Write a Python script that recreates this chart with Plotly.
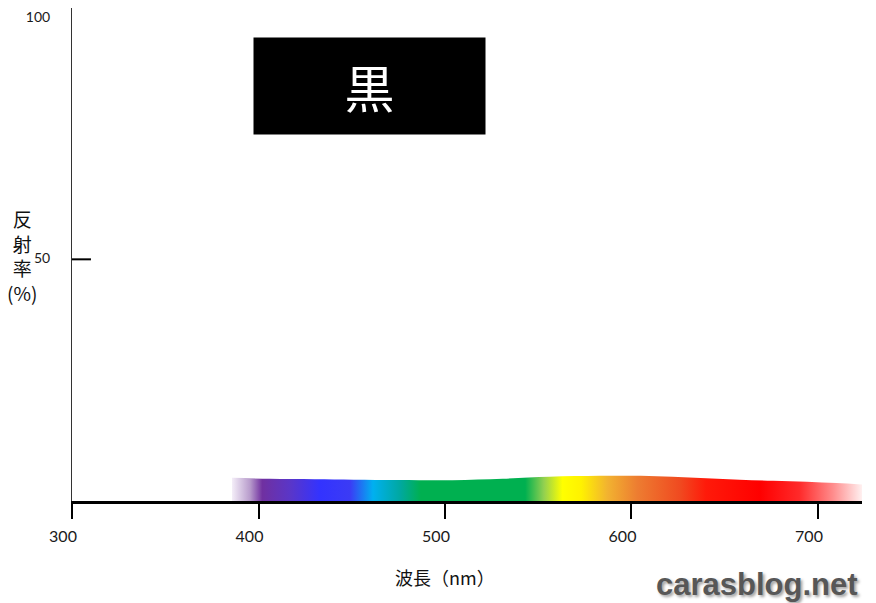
import plotly.graph_objects as go

# eixo x (nm) e rotulos
x_ticks = [300, 400, 500, 600, 700]
x_ticklabels = ["300", "400", "500", "600", "700"]
y_ticks = [50, 100]
y_ticklabels = ["50", "100"]

# borda superior da faixa do espectro (refletancia do preto, %)
wavelength = [385.8, 406, 430, 451, 475, 504, 531, 556, 583, 605, 622, 640, 658, 676, 694, 710, 723.6]
reflectance = [4.8, 4.6, 4.5, 4.4, 4.35, 4.3, 4.6, 5.0, 5.2, 5.2, 5.0, 4.7, 4.4, 4.2, 4.0, 3.7, 3.4]

# cores do espectro visivel ao longo do comprimento de onda
spectrum_nm = [385.8, 395.4, 402, 417, 433, 449, 461.4, 476, 487, 543, 553, 563, 573, 587, 603, 626, 640, 669, 690, 708, 723.6]
spectrum_colors = ["#f4eef8", "#b89ccc", "#7030a0", "#5a36c8", "#3333ff", "#3b3bf5", "#00b0f0",
                   "#00a8a0", "#00b050", "#00b050", "#92d050", "#ffff00", "#fff200", "#f2b330",
                   "#ed7d31", "#f04a20", "#ff1a0a", "#ff0000", "#ff2a2a", "#ff8c8c", "#fff0f0"]

band_start = spectrum_nm[0]
band_stop = spectrum_nm[-1]
colorscale = [[(w - band_start) / (band_stop - band_start), c] for w, c in zip(spectrum_nm, spectrum_colors)]

fig = go.Figure()

fig.add_trace(go.Scatter(
    x=wavelength, y=reflectance,
    mode="lines", line=dict(width=0, shape="spline"),
    fill="tozeroy",
    fillgradient=dict(type="horizontal", colorscale=colorscale, start=band_start, stop=band_stop),
    hoverinfo="skip", showlegend=False,
))

font_jp = "Lato, 'Noto Sans CJK JP', sans-serif"

# a pagina tem 8px de margem no body, por isso o tamanho menor
fig.update_layout(
    width=868, height=595,
    margin=dict(l=64, r=14, t=0, b=102),
    plot_bgcolor="white", paper_bgcolor="white",
    font=dict(family=font_jp, color="#222222"),
    showlegend=False,
)

fig.update_xaxes(
    range=[300, 723.6], tickvals=x_ticks, ticktext=x_ticklabels,
    showgrid=False, zeroline=False, automargin=False,
    showline=True, linewidth=3, linecolor="black",
    ticks="outside", ticklen=15, tickwidth=2, tickcolor="black",
    tickfont=dict(size=16, color="#1a1a1a"),
    ticklabelstandoff=4, ticklabelshift=-9,
)

fig.update_yaxes(
    range=[0, 102], tickvals=y_ticks, ticktext=y_ticklabels,
    showgrid=False, zeroline=False, automargin=False,
    showline=True, linewidth=1, linecolor="#333333",
    ticks="", tickfont=dict(size=14, color="#1a1a1a"),
    ticklabelstandoff=18, ticklabelshift=-1, ticklabeloverflow="allow",
)

# marca do 50 voltada para dentro
fig.add_shape(type="line", xref="paper", yref="y", x0=0, x1=0.024, y0=50, y1=50,
              line=dict(color="black", width=2))

# caixa do titulo
fig.add_annotation(
    text="黒", xref="paper", yref="paper", x=0.3766, y=0.842,
    xanchor="center", yanchor="middle",
    showarrow=False, width=231, height=96, bgcolor="black", borderpad=0,
    font=dict(family="'Noto Sans CJK JP', sans-serif", size=50, color="white"),
)

# titulos dos eixos
fig.add_annotation(
    text="反<br>射<br>率<br>(%)", xref="paper", yref="paper", x=-0.0633, y=0.497,
    showarrow=False, xanchor="center", yanchor="middle",
    font=dict(family="'Noto Sans CJK JP', sans-serif", size=19, color="#111111"),
)
fig.add_annotation(
    text="波長（nm）", xref="paper", yref="paper", x=0.472, y=-0.154,
    showarrow=False, xanchor="center", yanchor="middle",
    font=dict(family="'Noto Sans CJK JP', sans-serif", size=18, color="#111111"),
)

# marca d'agua
fig.add_annotation(
    text="carasblog.net", xref="paper", yref="paper", x=0.867, y=-0.170,
    showarrow=False, xanchor="center", yanchor="middle",
    font=dict(family="'Liberation Sans', Arial, sans-serif", size=31, color="#575757",
              weight="bold", shadow="2px 2px 3px #a0a0a0"),
)

fig.write_html("out.html")
